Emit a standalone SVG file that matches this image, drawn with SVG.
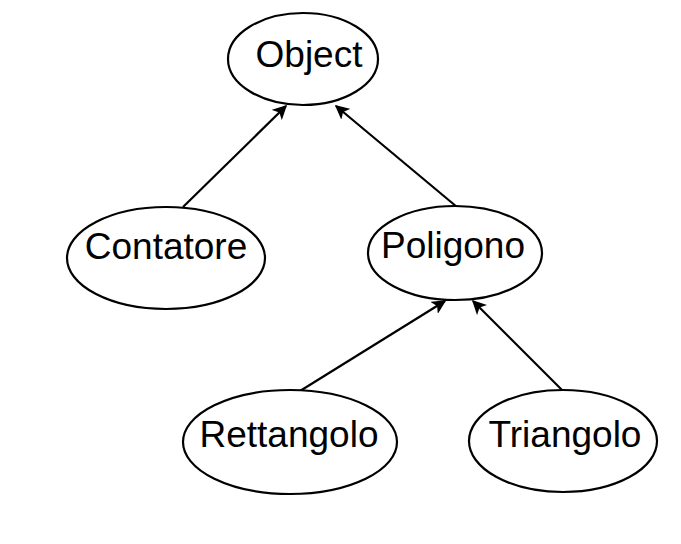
<svg xmlns="http://www.w3.org/2000/svg" width="681" height="544" viewBox="0 0 681 544">
<defs>
<marker id="arr" viewBox="0 0 10 10" refX="9" refY="5" markerWidth="6.5" markerHeight="6.5" markerUnits="strokeWidth" orient="auto">
<path d="M0,0 L10,5 L0,10 L2.5,5 z" fill="#000"/>
</marker>
</defs>
<style>
.n ellipse{fill:#fff;stroke:#000;stroke-width:2.2}
.n text{font-family:"Liberation Sans",Arial,sans-serif;font-size:37px;fill:#000;text-anchor:middle}
.c line{stroke:#000;stroke-width:2.2;marker-end:url(#arr)}
</style>
<rect width="681" height="544" fill="#fff"/>
<g id="connectors" class="c">
<line x1="183" y1="207" x2="286" y2="106"/>
<line x1="457" y1="207" x2="336" y2="106"/>
<line x1="300" y1="391" x2="445" y2="301"/>
<line x1="563" y1="391" x2="473" y2="301"/>
</g>
<g id="object" class="n">
<ellipse cx="303" cy="59" rx="75" ry="46"/>
<text x="309" y="67">Object</text>
</g>
<g id="contatore" class="n">
<ellipse cx="166" cy="258" rx="99" ry="51"/>
<text x="166" y="259">Contatore</text>
</g>
<g id="poligono" class="n">
<ellipse cx="455" cy="253" rx="87" ry="47"/>
<text x="453" y="258">Poligono</text>
</g>
<g id="rettangolo" class="n">
<ellipse cx="290" cy="442" rx="107" ry="52"/>
<text x="289" y="447">Rettangolo</text>
</g>
<g id="triangolo" class="n">
<ellipse cx="563" cy="441" rx="94" ry="51"/>
<text x="565" y="447">Triangolo</text>
</g>
</svg>
